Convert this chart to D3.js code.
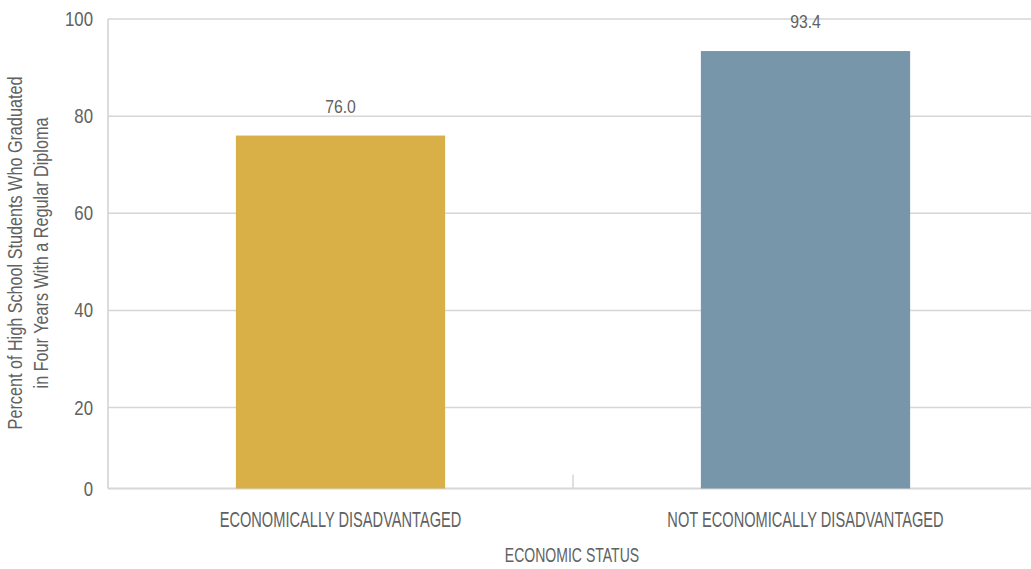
<!DOCTYPE html>
<html><head><meta charset="utf-8">
<script src="https://cdn.jsdelivr.net/npm/d3@7"></script>
<style>
body{margin:0;background:#fff;}
text{font-family:"Liberation Sans",Arial,sans-serif;fill:#616161;}
</style></head>
<body><svg id="c" width="1031" height="569"></svg>
<script>
const categories = ["ECONOMICALLY DISADVANTAGED", "NOT ECONOMICALLY DISADVANTAGED"];
const values = [76.0, 93.4];
const valueLabels = ["76.0", "93.4"];
const colors = ["#D9B047", "#7896AA"];
const yTicks = [0, 20, 40, 60, 80, 100];
const yTitle = ["Percent of High School Students Who Graduated", "in Four Years With a Regular Diploma"];
const xTitle = "ECONOMIC STATUS";

const svg = d3.select("#c");
const left = 108, right = 1038;
const x = d3.scaleBand().domain(categories).range([left, right]).padding(0);
const y = d3.scaleLinear().domain([0, 20, 100]).range([488.5, 407.5, 19]);
const barW = x.bandwidth() * 0.45;
const tr = (px, py, sx) => `translate(${px},${py}) scale(${sx},1)`;

svg.append("g").selectAll("line").data(yTicks).join("line")
  .attr("x1", left).attr("x2", 1031)
  .attr("y1", d => y(d)).attr("y2", d => y(d))
  .attr("stroke", "#d6d6d6").attr("stroke-width", d => d === 0 ? 2 : 1.5);

svg.append("line").attr("x1", left).attr("x2", left).attr("y1", y(100)).attr("y2", y(0))
  .attr("stroke", "#d0d0d0").attr("stroke-width", 1.5);

svg.append("g").selectAll("line").data(categories.slice(1)).join("line")
  .attr("x1", d => x(d)).attr("x2", d => x(d))
  .attr("y1", y(0) - 14).attr("y2", y(0))
  .attr("stroke", "#d6d6d6").attr("stroke-width", 1.5);

// y tick labels
svg.append("g").selectAll("text").data(yTicks).join("text")
  .attr("transform", d => tr(93, y(d) + 7, 0.8))
  .attr("text-anchor", "end").attr("font-size", 21).text(d => d);

// bars
svg.append("g").selectAll("rect").data(values).join("rect")
  .attr("x", (d, i) => x(categories[i]) + (x.bandwidth() - barW) / 2)
  .attr("width", barW)
  .attr("y", d => y(d))
  .attr("height", d => y(0) - y(d))
  .attr("fill", (d, i) => colors[i]);

// value labels
svg.append("g").selectAll("text").data(values).join("text")
  .attr("transform", (d, i) => tr(x(categories[i]) + x.bandwidth() / 2, y(d) - 23, 0.9))
  .attr("text-anchor", "middle").attr("font-size", 17.5)
  .text((d, i) => valueLabels[i]);

// category labels
svg.append("g").selectAll("text").data(categories).join("text")
  .attr("transform", d => tr(x(d) + x.bandwidth() / 2, 527, 0.68))
  .attr("text-anchor", "middle").attr("font-size", 21.5)
  .text(d => d);

// x title
svg.append("text").attr("transform", tr(572, 562, 0.72)).attr("text-anchor", "middle")
  .attr("font-size", 19.5).text(xTitle);

// y title
const yt = svg.append("text").attr("transform", "translate(0,253) rotate(-90) scale(0.81,1)")
  .attr("text-anchor", "middle").attr("font-size", 20);
yt.selectAll("tspan").data(yTitle).join("tspan")
  .attr("x", 0).attr("y", (d, i) => 22 + i * 26).text(d => d);
</script></body></html>
